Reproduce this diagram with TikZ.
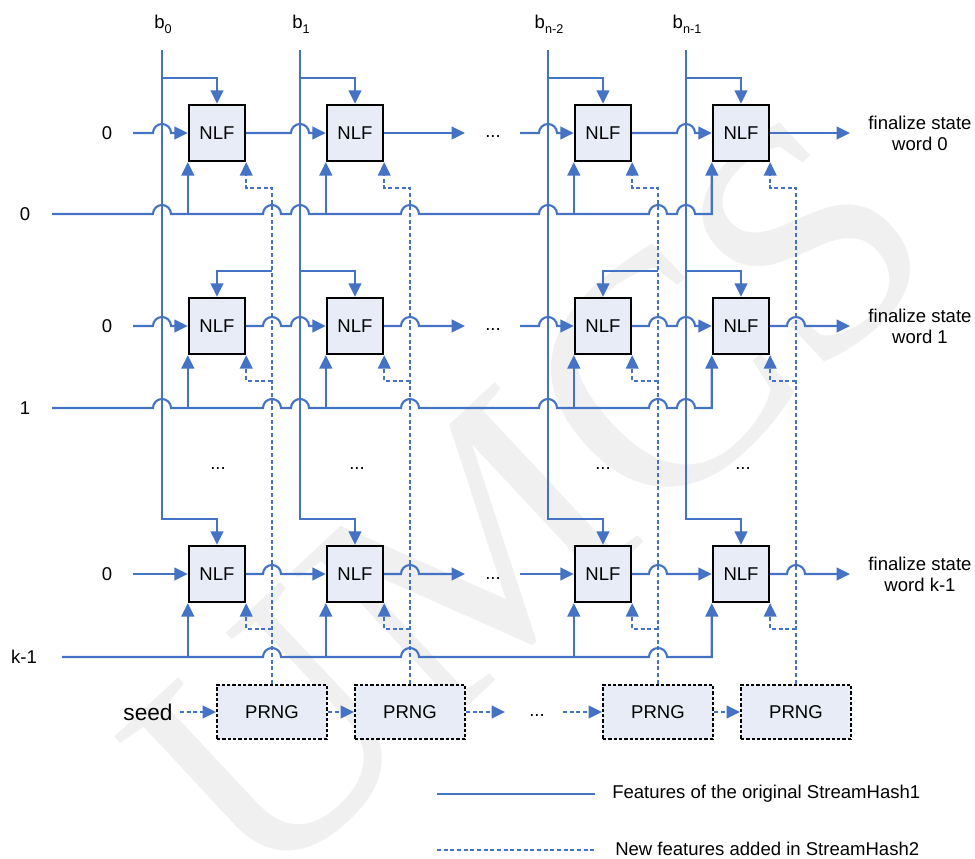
\documentclass[tikz,border=0pt]{standalone}
\usepackage{fontspec}
\setmainfont{Liberation Sans}
\newfontfamily\wmfont{Liberation Serif}
\usetikzlibrary{arrows.meta,calc}
\definecolor{lnblue}{HTML}{4472C4}
\definecolor{boxfill}{HTML}{E7ECF7}
\newcommand\lowsub[1]{\raisebox{-0.28em}{\fontsize{9.5}{10}\selectfont #1}}
\def\hp#1#2{-- ({#1-9},#2) arc[start angle=180,end angle=0,radius=6.75pt]}
\begin{document}
\begin{tikzpicture}[x=0.75pt,y=-0.75pt,
  font=\fontsize{13.9}{15.75}\selectfont,
  sl/.style={draw=lnblue,line width=1.6pt},
  dl/.style={draw=lnblue,line width=1.2pt,dash pattern=on 3pt off 2pt},
  arr/.style={-{Triangle[length=10pt,width=9.5pt]}},
  nlf/.style={draw=black,line width=1.8pt,fill=boxfill,minimum width=42pt,minimum height=42pt,inner sep=0pt},
  prng/.style={draw=black,line width=1.5pt,dash pattern=on 2.5pt off 1.5pt,fill=boxfill,minimum width=82.5pt,minimum height=41pt,inner sep=0pt},
  lbl/.style={inner sep=0pt},
  wm/.style={font=\wmfont\fontsize{250}{250}\selectfont,text=black!6,rotate=43}]
\useasboundingbox (0,0) rectangle (975,859);
\node[wm] (wmark) at (530,500) {UMCS};

% NLF boxes
\foreach \r/\y in {0/133,1/326,2/574}
  \foreach \c/\x in {0/217,1/355,2/603,3/741}
    \node[nlf] (n\r\c) at (\x,\y) {NLF};

% PRNG boxes
\node[prng] (p0) at (272,712) {PRNG};
\node[prng] (p1) at (410,712) {PRNG};
\node[prng] (p2) at (658,712) {PRNG};
\node[prng] (p3) at (796,712) {PRNG};

% b labels and lines
\node[lbl] (lb0) at (163,24) {b\lowsub{0}};
\node[lbl] (lb1) at (301,24) {b\lowsub{1}};
\node[lbl] (lb2) at (549,24) {b\lowsub{n-2}};
\node[lbl] (lb3) at (687,24) {b\lowsub{n-1}};
\foreach \c/\b in {0/162,1/300,2/548,3/686}{
  \coordinate (bt\c) at (\b,50);
  \draw[sl,arr] (bt\c) -- (\b,519) -| (n2\c.north);
  \draw[sl,arr] (\b,78) -| (n0\c.north);
}
% row 1 top inputs
\draw[sl,arr] (272,271) -| (n10.north);
\draw[sl,arr] (300,271) -| (n11.north);
\draw[sl,arr] (658,271) -| (n12.north);
\draw[sl,arr] (686,271) -| (n13.north);

% dashed PRNG outputs
\foreach \c/\d in {0/272,1/410,2/658,3/796}{
  \draw[dl,arr] (p\c.north) -- (\d,188) -| (n0\c.south east);
  \draw[dl,arr] (\d,381) -| (n1\c.south east);
  \draw[dl,arr] (\d,629) -| (n2\c.south east);
}

% state lines
\node[lbl] (sl0) at (25,214) {0};
\node[lbl] (sl1) at (25,408) {1};
\node[lbl] (sl2) at (24,657) {k-1};
\coordinate (s0) at (52,214);
\coordinate (s1) at (52,408);
\coordinate (s2) at (62,657);
\draw[sl,arr] (s0) \hp{162}{214} \hp{272}{214} \hp{300}{214} \hp{410}{214} \hp{548}{214} \hp{658}{214} \hp{686}{214} -| (n03.south west);
\draw[sl,arr] (s1) \hp{162}{408} \hp{272}{408} \hp{300}{408} \hp{410}{408} \hp{548}{408} \hp{658}{408} \hp{686}{408} -| (n13.south west);
\draw[sl,arr] (s2) -- (263,657) arc[start angle=180,end angle=0,radius=6.75pt] \hp{410}{657} \hp{658}{657} -| (n23.south west);
\foreach \r in {0,1,2}
  \foreach \c in {0,1,2}
    \draw[sl,arr] (n\r\c.south west |- s\r) -- (n\r\c.south west);

% chain lines
\foreach \r/\y in {0/133,1/326,2/574}{
  \node[lbl] (z\r) at (107,\y) {0};
  \coordinate (cs\r) at (133,\y);
  \coordinate (ce\r) at (465,\y);
  \coordinate (cr\r) at (520,\y);
  \coordinate (cf\r) at (850,\y);
  \node[lbl,anchor=base] (cd\r) at (493,\y+5) {...};
}
\draw[sl,arr] (cs0) \hp{162}{133} -- (n00.west);
\draw[sl,arr] (n00.east) \hp{300}{133} -- (n01.west);
\draw[sl,arr] (n01.east) -- (ce0);
\draw[sl,arr] (cr0) \hp{548}{133} -- (n02.west);
\draw[sl,arr] (n02.east) \hp{686}{133} -- (n03.west);
\draw[sl,arr] (n03.east) -- (cf0);

\draw[sl,arr] (cs1) \hp{162}{326} -- (n10.west);
\draw[sl,arr] (n10.east) \hp{272}{326} \hp{300}{326} -- (n11.west);
\draw[sl,arr] (n11.east) \hp{410}{326} -- (ce1);
\draw[sl,arr] (cr1) \hp{548}{326} -- (n12.west);
\draw[sl,arr] (n12.east) \hp{658}{326} \hp{686}{326} -- (n13.west);
\draw[sl,arr] (n13.east) \hp{796}{326} -- (cf1);

\draw[sl,arr] (cs2) -- (n20.west);
\draw[sl,arr] (n20.east) \hp{272}{574} -- (n21.west);
\draw[sl,arr] (n21.east) \hp{410}{574} -- (ce2);
\draw[sl,arr] (cr2) -- (n22.west);
\draw[sl,arr] (n22.east) \hp{658}{574} -- (n23.west);
\draw[sl,arr] (n23.east) \hp{796}{574} -- (cf2);

% outputs
\node[lbl,align=center] (f0) at (920,133) {finalize state\\word 0};
\node[lbl,align=center] (f1) at (920,326) {finalize state\\word 1};
\node[lbl,align=center] (f2) at (920,574) {finalize state\\word k-1};

% middle dots
\foreach \c/\x in {0/218,1/357,2/603,3/743}
  \node[lbl,anchor=base] (md\c) at (\x,469) {...};

% PRNG chain
\node[lbl,font=\fontsize{17}{19}\selectfont] (seed) at (148,712) {seed};
\coordinate (ss) at (180,712);
\coordinate (pe) at (505,712);
\coordinate (pr) at (563,712);
\node[lbl,anchor=base] (pd) at (537,716) {...};
\draw[dl,arr] (ss) -- (p0.west);
\draw[dl,arr] (p0.east) -- (p1.west);
\draw[dl,arr] (p1.east) -- (pe);
\draw[dl,arr] (pr) -- (p2.west);
\draw[dl,arr] (p2.east) -- (p3.west);

% legend
\coordinate (la) at (437,794);
\coordinate (lb) at (595,794);
\coordinate (lc) at (437,850);
\coordinate (ld) at (595,850);
\draw[sl] (la) -- (lb);
\draw[dl] (lc) -- (ld);
\node[lbl,anchor=west] (lt1) at (612,794) {Features of the original StreamHash1};
\node[lbl,anchor=west] (lt2) at (615,849) {New features added in StreamHash2};
\end{tikzpicture}
\end{document}
